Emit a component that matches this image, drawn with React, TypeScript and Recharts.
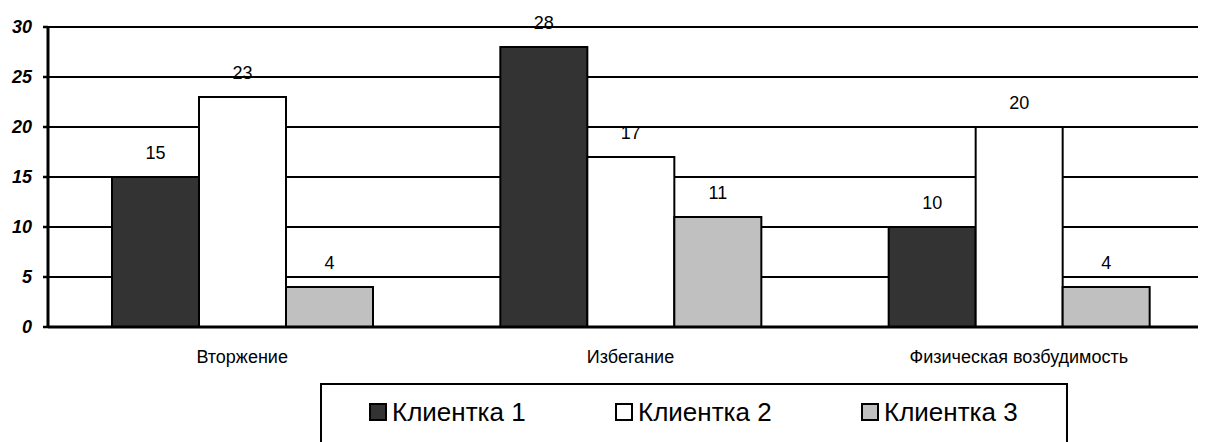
import React from 'react';
import { BarChart, Bar, XAxis, YAxis, CartesianGrid, Legend, LabelList } from 'recharts';

const categories = ['Вторжение', 'Избегание', 'Физическая возбудимость'];
const client1 = [15, 28, 10];
const client2 = [23, 17, 20];
const client3 = [4, 11, 4];
const seriesNames = ['Клиентка 1', 'Клиентка 2', 'Клиентка 3'];
const seriesColors = ['#333333', '#ffffff', '#c0c0c0'];
const yTicks = [0, 5, 10, 15, 20, 25, 30];
const boundaryTicks = [0, 1, 2, 3];

const data = categories.map((c, i) => ({
  name: c,
  s1: client1[i],
  s2: client2[i],
  s3: client3[i],
}));

const FONT = '"Liberation Sans", Arial, sans-serif';

const LegendContent = () => (
  <div
    style={{
      display: 'flex',
      alignItems: 'center',
      height: 54,
      paddingLeft: 47,
      fontFamily: FONT,
      fontSize: 26,
      color: '#000',
    }}
  >
    {seriesNames.map((n, i) => (
      <div key={n} style={{ display: 'flex', alignItems: 'center', width: 246, flex: 'none' }}>
        <div
          style={{
            width: 14,
            height: 14,
            border: '2px solid #000',
            background: seriesColors[i],
            marginRight: 5,
            flex: 'none',
          }}
        />
        <span style={{ lineHeight: '26px', whiteSpace: 'nowrap' }}>{n}</span>
      </div>
    ))}
  </div>
);

export default function App() {
  return (
    <div style={{ width: 1198, height: 434, overflow: 'hidden', position: 'relative' }}>
      <BarChart
        width={1220}
        height={440}
        data={data}
        margin={{ top: 19, right: 15, left: 0, bottom: 0 }}
        barCategoryGap={64}
        barGap={0}
      >
        <CartesianGrid horizontal vertical={false} stroke="#000" strokeWidth={2} strokeOpacity={1} />
        <XAxis
          xAxisId="b"
          type="number"
          domain={[0, 3]}
          ticks={boundaryTicks}
          height={0}
          tick={false}
          axisLine={false}
          tickLine={{ stroke: '#000', strokeWidth: 2.5 }}
          tickSize={7}
        />
        <XAxis
          dataKey="name"
          height={121}
          axisLine={{ stroke: '#000', strokeWidth: 3 }}
          tickLine={false}
          tickSize={5}
          tickMargin={18}
          tick={{ fill: '#000', fontSize: 18, fontFamily: FONT }}
          interval={0}
        />
        <YAxis
          domain={[0, 30]}
          ticks={yTicks}
          width={40}
          axisLine={{ stroke: '#000', strokeWidth: 3 }}
          tickLine={{ stroke: '#000', strokeWidth: 2.5 }}
          tickSize={5}
          tickMargin={11}
          tick={{ fill: '#000', fontSize: 18, fontFamily: FONT, fontWeight: 'bold', fontStyle: 'italic' }}
          interval={0}
        />
        <Legend
          layout="horizontal"
          verticalAlign="middle"
          align="center"
          content={<LegendContent />}
          wrapperStyle={{
            top: 375,
            left: 312,
            width: 748,
            height: 80,
            border: '2px solid #000',
            boxSizing: 'border-box',
            background: '#fff',
          }}
        />
        <Bar dataKey="s1" name={seriesNames[0]} fill={seriesColors[0]} stroke="#000" strokeWidth={2} isAnimationActive={false}>
          <LabelList dataKey="s1" position="top" offset={18} fill="#000" fontSize={18} fontFamily={FONT} />
        </Bar>
        <Bar dataKey="s2" name={seriesNames[1]} fill={seriesColors[1]} stroke="#000" strokeWidth={2} isAnimationActive={false}>
          <LabelList dataKey="s2" position="top" offset={18} fill="#000" fontSize={18} fontFamily={FONT} />
        </Bar>
        <Bar dataKey="s3" name={seriesNames[2]} fill={seriesColors[2]} stroke="#000" strokeWidth={2} isAnimationActive={false}>
          <LabelList dataKey="s3" position="top" offset={18} fill="#000" fontSize={18} fontFamily={FONT} />
        </Bar>
      </BarChart>
    </div>
  );
}
